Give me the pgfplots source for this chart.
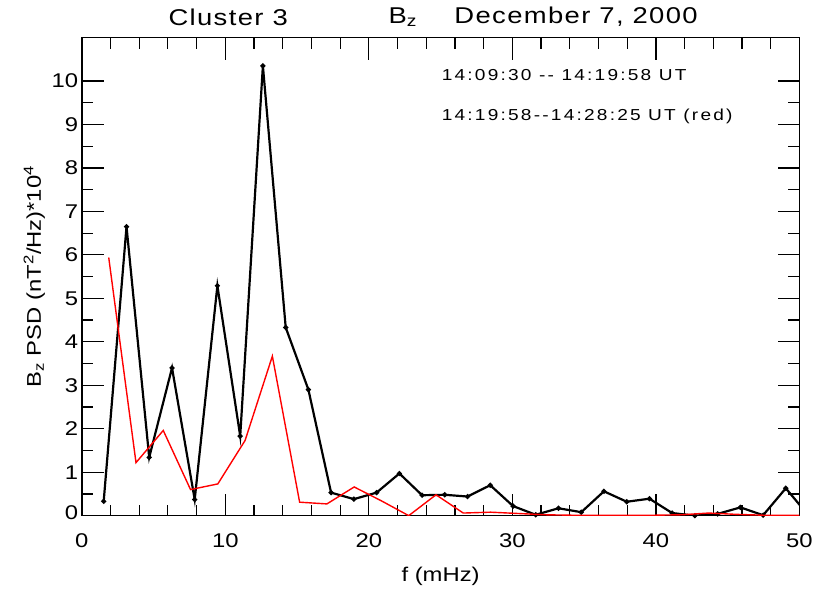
\documentclass[border=0pt]{standalone}
\usepackage{fontspec}
\setmainfont[FakeStretch=1.2]{Liberation Sans}
\newfontfamily\legfont[FakeStretch=1.2,LetterSpace=14]{Liberation Sans}
\newfontfamily\titfont[FakeStretch=1.2,LetterSpace=6]{Liberation Sans}
\usepackage{pgfplots}
\pgfplotsset{compat=1.18}

% black: 14:09:30 -- 14:19:58 UT, red: 14:19:58 -- 14:28:25 UT
\pgfplotstableread{
f     psd
1.53  0.33
3.12  6.65
4.70  1.34
6.29  3.40
7.87  0.37
9.45  5.29
11.04 1.83
12.62 10.35
14.21 4.33
15.79 2.90
17.37 0.53
18.96 0.38
20.54 0.53
22.13 0.97
23.71 0.47
25.29 0.48
26.88 0.44
28.46 0.70
30.05 0.22
31.63 0.02
33.21 0.17
34.80 0.08
36.38 0.56
37.97 0.32
39.55 0.39
41.13 0.06
42.72 0.00
44.30 0.04
45.89 0.19
47.47 0.01
49.05 0.63
50.64 0.00
}\first

\pgfplotstableread{
f     psd
1.88  5.94
3.78  1.22
5.68  1.96
7.58  0.60
9.48  0.73
11.38 1.73
13.28 3.67
15.18 0.31
17.08 0.27
18.98 0.66
20.88 0.34
22.78 0.00
24.68 0.48
26.58 0.06
28.48 0.08
30.38 0.05
32.28 0.02
34.18 0.01
36.08 0.01
37.98 0.01
39.88 0.01
41.78 0.02
43.68 0.06
45.58 0.03
47.48 0.01
49.38 0.01
51.28 0.00
}\second

\begin{document}
\begin{tikzpicture}
\begin{axis}[
    scale only axis,
    width=720bp, height=479.6bp,
    xmin=0, xmax=50, ymin=0, ymax=11,
    xtick={0,10,...,50}, minor x tick num=4,
    ytick={0,...,10}, minor y tick num=1,
    yticklabels={\raisebox{6bp}{0},1,2,3,4,5,6,7,8,9,10},
    tick align=inside,
    major tick length=22bp, minor tick length=11bp,
    every tick/.style={black, line width=1.2bp},
    axis line style={line width=1.6bp},
    clip mode=individual,
    /pgf/number format/assume math mode=true,
    tick label style={font=\fontsize{20}{24}\selectfont},
    xticklabel style={yshift=-15bp},
    label style={font=\fontsize{20}{24}\selectfont},
    xlabel={f (mHz)},
    ylabel={B\textsubscript{z} PSD (nT\textsuperscript{2}/Hz)*10\textsuperscript{4}},
    xlabel style={at={(axis description cs:0.5,-0.127)}, anchor=center},
    ylabel style={at={(axis description cs:-0.066,0.5)}, anchor=center},
  ]
  \addplot[black, line width=2.2bp, mark=*, mark size=1.3bp] table[x=f, y=psd] {\first};
  \addplot[red, line width=1.4bp] table[x=f, y=psd] {\second};

  \node[font=\titfont\fontsize{23}{27}\selectfont] at (axis cs:10.2,11.47) {Cluster 3};
  \node[font=\titfont\fontsize{23}{27}\selectfont] at (axis cs:22.36,11.47) {B\textsubscript{z}};
  \node[font=\titfont\fontsize{23}{27}\selectfont] at (axis cs:34.44,11.47) {December 7, 2000};
  \node[anchor=west, inner sep=0pt, font=\legfont\fontsize{16}{19}\selectfont] at (axis cs:25.07,10.14) {14:09:30 -{}- 14:19:58 UT};
  \node[anchor=west, inner sep=0pt, font=\legfont\fontsize{16}{19}\selectfont] at (axis cs:25.07,9.18) {14:19:58-{}-14:28:25 UT (red)};
\end{axis}
\path ([xshift=-82bp,yshift=-70.7bp]current axis.south west) rectangle ([xshift=14bp,yshift=37.7bp]current axis.north east);
\end{tikzpicture}
\end{document}
